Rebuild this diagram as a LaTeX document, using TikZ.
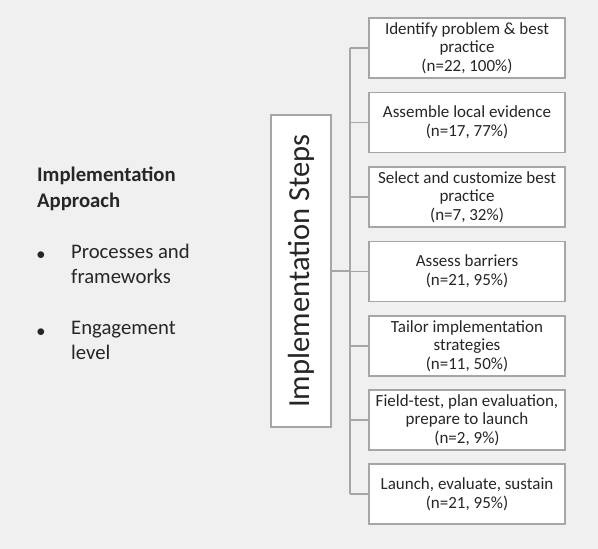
\documentclass[tikz,border=0pt]{standalone}
\usepackage{fontspec}
\setmainfont{Carlito}
\usepackage{tikz}
\usetikzlibrary{positioning}
\definecolor{bgGray}{HTML}{F0F0F0}
\definecolor{lineGray}{HTML}{A6A6A6}
\definecolor{txtDark}{HTML}{262626}

\begin{document}
\begin{tikzpicture}[x=1pt,y=-1pt,
  stepbox/.style={draw=lineGray, line width=1.5pt, fill=white, minimum width=196pt, minimum height=60pt,
    align=center, inner sep=2pt, text=txtDark, font=\fontsize{17}{18.6}\selectfont},
  mainbox/.style={draw=lineGray, line width=1.5pt, fill=white, rotate=90, minimum width=312pt, minimum height=60pt,
    text=txtDark, font=\fontsize{30.6}{34}\selectfont},
  branch/.style={draw=lineGray, line width=1.5pt},
  lefttext/.style={anchor=north west, inner sep=0pt, align=left, text=txtDark, font=\fontsize{20.7}{25.3}\selectfont}]
\fill[bgGray] (0,0) rectangle (598,549);
\useasboundingbox (0,0) rectangle (598,549);
% left column
\node[lefttext, font=\fontsize{20.7}{25.3}\bfseries] at (37,167) (approach) {Implementation\\Approach};
\node[lefttext] at (71,244) (proc) {Processes and\\frameworks};
\node[lefttext] at (71,321) (engage) {Engagement\\level};
\node[txtDark, font=\fontsize{18}{25}\selectfont] at (41,256) (b1) {$\bullet$};
\node[txtDark, font=\fontsize{18}{25}\selectfont] at (41,333) (b2) {$\bullet$};
% main box
\node[mainbox] at (301,271) (steps) {Implementation Steps};
% steps
\node[stepbox] at (467,48) (s1) {Identify problem \& best\\practice\\(n=22, 100\%)};
\node[stepbox] at (467,122.5) (s2) {Assemble local evidence\\(n=17, 77\%)};
\node[stepbox] at (467,197) (s3) {Select and customize best\\practice\\(n=7, 32\%)};
\node[stepbox] at (467,271.5) (s4) {Assess barriers\\(n=21, 95\%)};
\node[stepbox] at (467,346) (s5) {Tailor implementation\\strategies\\(n=11, 50\%)};
\node[stepbox] at (467,420) (s6) {Field-test, plan evaluation,\\prepare to launch\\(n=2, 9\%)};
\node[stepbox] at (467,494) (s7) {Launch, evaluate, sustain\\(n=21, 95\%)};
% connectors
\coordinate (trunk) at (350,0);
\path[branch] (s1.west -| trunk) -- (s7.west -| trunk);
\foreach \s in {s1,s2,s3,s4,s5,s6,s7}
  \path[branch] (\s.west -| trunk) -- (\s.west);
\path[branch] (steps.south) -- (steps.south -| trunk);
\end{tikzpicture}
\end{document}
